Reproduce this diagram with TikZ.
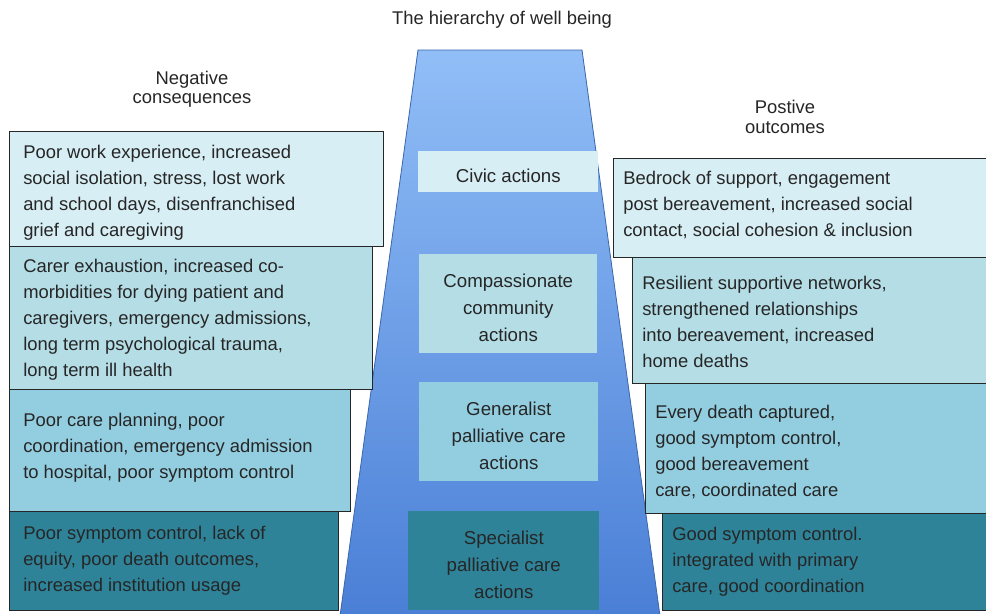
\documentclass[tikz,border=0pt]{standalone}
\usepackage{fontspec}
\setmainfont{Liberation Sans}
\definecolor{cA}{HTML}{D7EEF5}
\definecolor{cB}{HTML}{B4DDE6}
\definecolor{cC}{HTML}{93CEE0}
\definecolor{cD}{HTML}{2E8399}
\definecolor{txt}{HTML}{262626}
\definecolor{trtop}{HTML}{91BEF7}
\definecolor{trbot}{HTML}{4A7FD6}
\begin{document}
\begin{tikzpicture}[x=0.75pt,y=-0.75pt,
  box/.style={draw=black!85, line width=1pt, anchor=north west, inner sep=0pt},
  sidetext/.style={anchor=west, inner sep=0pt, align=left, text=txt,
    font=\fontsize{13.8}{19.5}\selectfont},
  ltext/.style={sidetext, xshift=10.5pt},
  rtext/.style={sidetext, xshift=7.5pt},
  actbox/.style={anchor=north west, inner sep=0pt},
  acttext/.style={align=center, text=txt, inner sep=0pt, yshift=-3pt,
    font=\fontsize{14}{20.2}\selectfont},
  ttl/.style={align=center, text=txt, font=\fontsize{13.8}{14.4}\selectfont}]
\clip (0,0) rectangle (986,614);
\fill[white] (0,0) rectangle (986,614);
% trapezoid
\shade[top color=trtop, bottom color=trbot, draw=trbot!80!black, line width=0.6pt]
  (418,50) -- (582,50) -- (660,616) -- (340,616) -- cycle;
% titles
\node[ttl] (title) at (502,20) {The hierarchy of well being};
\node[ttl] (neg) at (192,89) {Negative\\consequences};
\node[ttl] (pos) at (785,117) {Postive\\outcomes};
% centre action boxes
\node[actbox, fill=cA, minimum width=180*0.75pt, minimum height=41*0.75pt] (civic) at (418,151) {};
\node[acttext] (civict) at (civic.center) {Civic actions};
\node[actbox, fill=cB, minimum width=178*0.75pt, minimum height=99*0.75pt] (comp) at (419,254) {};
\node[acttext] (compt) at (comp.center) {Compassionate\\community\\actions};
\node[actbox, fill=cC, minimum width=179*0.75pt, minimum height=99*0.75pt] (gen) at (419,382) {};
\node[acttext] (gent) at (gen.center) {Generalist\\palliative care\\actions};
\node[actbox, fill=cD, minimum width=191*0.75pt, minimum height=99*0.75pt] (spec) at (408,511) {};
\node[acttext] (spect) at (spec.center) {Specialist\\palliative care\\actions};
% left boxes
\node[box, fill=cA, minimum width=374*0.75pt, minimum height=115*0.75pt] (l1) at (9,131) {};
\node[ltext, yshift=-3pt] (l1t) at (l1.west)
  {Poor work experience, increased\\social isolation, stress, lost work\\and school days, disenfranchised\\grief and caregiving};
\node[box, fill=cB, minimum width=363*0.75pt, minimum height=143*0.75pt] (l2) at (9,246) {};
\node[ltext, yshift=-1.5pt] (l2t) at (l2.west)
  {Carer exhaustion, increased co-\\morbidities for dying patient and\\caregivers, emergency admissions,\\long term psychological trauma,\\long term ill health};
\node[box, fill=cC, minimum width=341*0.75pt, minimum height=122*0.75pt] (l3) at (9,389) {};
\node[ltext, yshift=2.2pt] (l3t) at (l3.west)
  {Poor care planning, poor\\coordination, emergency admission\\to hospital, poor symptom control};
\node[box, fill=cD, minimum width=329*0.75pt, minimum height=99*0.75pt] (l4) at (9,511) {};
\node[ltext] (l4t) at (l4.west)
  {Poor symptom control, lack of\\equity, poor death outcomes,\\increased institution usage};
% right boxes
\node[box, fill=cA, minimum width=390*0.75pt, minimum height=99*0.75pt] (r1) at (613,158) {};
\node[rtext, yshift=2pt] (r1t) at (r1.west)
  {Bedrock of support, engagement\\post bereavement, increased social\\contact, social cohesion \& inclusion};
\node[box, fill=cB, minimum width=370*0.75pt, minimum height=126*0.75pt] (r2) at (632,257) {};
\node[rtext, yshift=-0.8pt] (r2t) at (r2.west)
  {Resilient supportive networks,\\strengthened relationships\\into bereavement, increased\\home deaths};
\node[box, fill=cC, minimum width=360*0.75pt, minimum height=130*0.75pt] (r3) at (645,383) {};
\node[rtext, yshift=-2.6pt] (r3t) at (r3.west)
  {Every death captured,\\good symptom control,\\good bereavement\\care, coordinated care};
\node[box, fill=cD, minimum width=340*0.75pt, minimum height=97*0.75pt] (r4) at (662,513) {};
\node[rtext] (r4t) at (r4.west)
  {Good symptom control.\\integrated with primary\\care, good coordination};
\end{tikzpicture}
\end{document}
